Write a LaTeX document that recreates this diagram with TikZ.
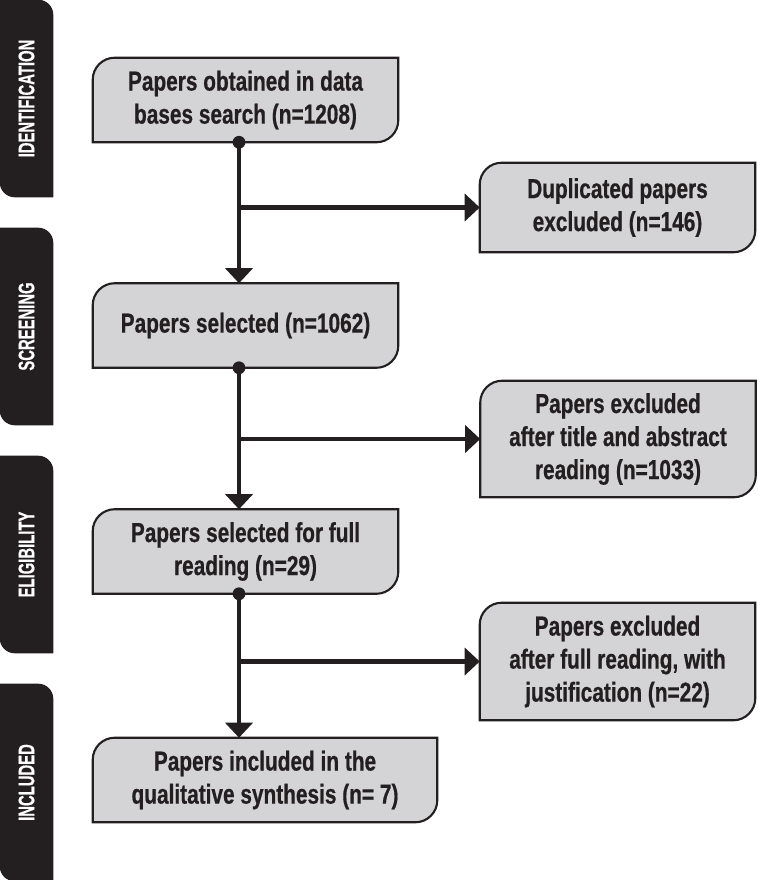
\documentclass[tikz,border=0pt]{standalone}
\usepackage{fontspec}
\setmainfont{Liberation Sans}[FakeStretch=0.76, BoldFeatures={FakeBold=0.6}]
\newfontfamily\tabfont{Liberation Sans}[FakeStretch=0.66, BoldFeatures={FakeBold=0.5}]
\usetikzlibrary{arrows.meta, backgrounds}

\definecolor{boxgray}{RGB}{212,212,214}
\definecolor{inkblack}{RGB}{35,31,32}

\begin{document}
\begin{tikzpicture}[
    >={Triangle[width=0.675cm, length=0.375cm]}, % Wide filled arrow heads
    % Styles
    box/.style={ % Record box (text only, outline drawn behind)
        rectangle,
        align=center,
        inner sep=0pt,
        minimum height=2.1cm,
        text=inkblack,
        font=\bfseries\fontsize{19.5}{23.5}\selectfont
    },
    leftbox/.style={ % Boxes of the main flow
        box,
        minimum width=7.625cm
    },
    rightbox/.style={ % Boxes of excluded papers
        box,
        minimum width=6.875cm
    },
    stage/.style={ % Stage tab on the left margin
        rectangle,
        inner sep=0pt,
        minimum width=1.325cm,
        minimum height=4.925cm,
        text=white,
        font=\tabfont\bfseries\fontsize{16}{18}\selectfont
    },
    outline/.style={ % Box outline and fill
        draw=inkblack,
        fill=boxgray,
        line width=1.5pt
    },
    tab/.style={ % Tab fill
        fill=inkblack
    },
    arrow/.style={
        ->,
        draw=inkblack,
        line width=3pt
    },
    dot/.style={ % Start of a connector
        fill=inkblack
    }
]

    \useasboundingbox (0,0) rectangle (18.925,-22);

    % Stage tabs
    \node[stage] (identification) at (0.6625,-2.4625) {\rotatebox{90}{IDENTIFICATION}};
    \node[stage] (screening) at (0.6625,-8.1625) {\rotatebox{90}{SCREENING}};
    \node[stage] (eligibility) at (0.6625,-13.8625) {\rotatebox{90}{ELIGIBILITY}};
    \node[stage] (included) at (0.6625,-19.5625) {\rotatebox{90}{INCLUDED}};

    % Main flow
    \node[leftbox] (obtained) at (6.1375,-2.5) {Papers obtained in data\\bases search (n=1208)};
    \node[leftbox] (selected) at (6.1375,-8.1375) {Papers selected (n=1062)};
    \node[leftbox] (fullsel) at (6.1375,-13.7875) {Papers selected for full\\reading (n=29)};
    \node[leftbox, minimum width=8.6cm] (synthesis) at (6.625,-19.5) {Papers included in the\\qualitative synthesis (n= 7)};

    % Excluded papers
    \node[rightbox, minimum height=2.225cm] (duplicated) at (15.4375,-5.1875) {Duplicated papers\\excluded (n=146)};
    \node[rightbox, minimum height=2.9cm] (abstract) at (15.45,-10.975) {Papers excluded\\after title and abstract\\reading (n=1033)};
    \node[rightbox, minimum height=2.925cm] (fullexcl) at (15.4375,-16.5375) {Papers excluded\\after full reading, with\\justification (n=22)};

    % Outlines behind the texts
    \begin{scope}[on background layer]
        \foreach \n in {identification, screening, eligibility, included}
            \fill[tab] (\n.north west) -- ([xshift=-0.375cm]\n.north east)
                arc[start angle=90, end angle=0, radius=0.375cm] -- (\n.south east)
                -- ([xshift=0.375cm]\n.south west)
                arc[start angle=270, end angle=180, radius=0.375cm] -- cycle;
        \foreach \n in {obtained, selected, fullsel, synthesis, duplicated, abstract, fullexcl}
            \draw[outline] (\n.south west) -- ([yshift=-0.55cm]\n.north west)
                arc[start angle=180, end angle=90, radius=0.55cm] -- (\n.north east)
                -- ([yshift=0.55cm]\n.south east)
                arc[start angle=0, end angle=-90, radius=0.55cm] -- cycle;
    \end{scope}

    % Trunk of the flow
    \coordinate (trunk) at (5.975,0);

    % Arrows down the main flow
    \foreach \a/\b in {obtained/selected, selected/fullsel, fullsel/synthesis} {
        \draw[arrow] (\a.south -| trunk) -- (\b.north -| trunk);
        \fill[dot] (\a.south -| trunk) circle (0.16);
    }

    % Arrows to the excluded papers
    \foreach \b in {duplicated, abstract, fullexcl}
        \draw[arrow] (\b.west -| trunk) -- (\b.west);

\end{tikzpicture}
\end{document}
